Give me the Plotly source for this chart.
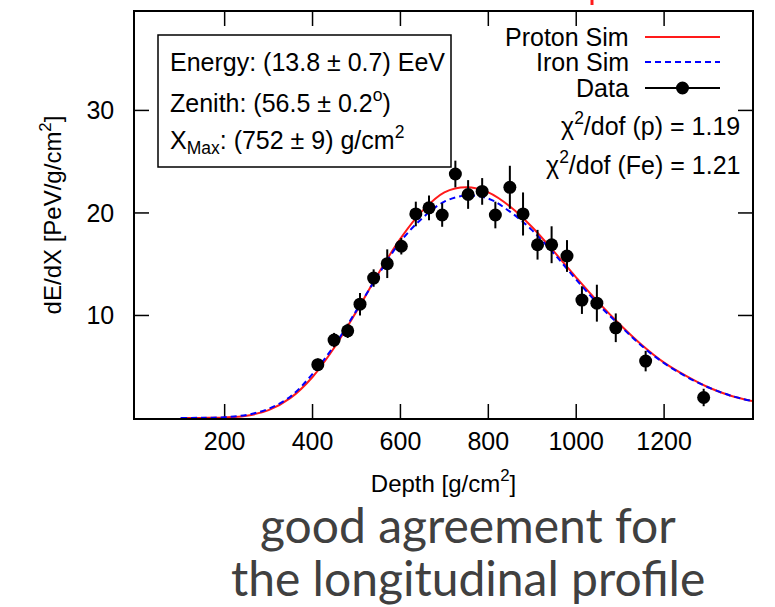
import plotly.graph_objects as go

# ---------------- data ----------------
depth = [412, 449, 480, 508, 539, 570, 602, 635, 665, 695, 725, 754, 786, 816, 849,
         879, 912, 944, 979, 1013, 1047, 1090, 1158, 1290]
dedx = [5.2, 7.6, 8.5, 11.1, 13.65, 15.05, 16.75, 19.9, 20.5, 19.8, 23.8, 21.8, 22.1,
        19.8, 22.5, 19.9, 16.9, 16.9, 15.8, 11.5, 11.2, 8.8, 5.55, 2.0]
dedx_err = [0.6, 0.7, 0.7, 1.1, 0.85, 1.4, 0.8, 1.2, 1.2, 1.15, 1.3, 1.4, 1.3, 1.3, 2.1,
            2.1, 1.45, 1.8, 1.55, 1.35, 1.8, 1.4, 1.0, 0.85]

sim_depth = [100, 150, 200, 250, 300, 350, 400, 450, 500, 550, 600, 650, 700, 750, 800,
             850, 900, 950, 1000, 1050, 1100, 1150, 1200, 1250, 1300, 1350, 1400]
proton_sim = [0.0, 0.01, 0.05, 0.22, 0.77, 1.96, 4.0, 6.9, 10.4, 14.1, 17.5, 20.2, 22.0,
              22.5, 22.0, 20.6, 18.6, 16.2, 13.7, 11.3, 9.1, 7.1, 5.4, 4.1, 3.0, 2.2, 1.65]
iron_sim = [0.0, 0.02, 0.08, 0.3, 0.9, 2.1, 4.3, 7.1, 10.5, 14.0, 17.2, 19.5, 21.1,
            21.7, 21.4, 20.1, 18.3, 16.0, 13.5, 11.1, 9.0, 7.0, 5.35, 4.05, 3.0, 2.2, 1.65]

x_ticks = [200, 400, 600, 800, 1000, 1200]
y_ticks = [10, 20, 30]
x_range = [-4, 1400]
y_range = [0, 39.6]

info_lines = ["Energy: (13.8 ± 0.7) EeV",
              "Zenith: (56.5 ± 0.2<sup>o</sup>)",
              "X<sub>Max</sub>: (752 ± 9) g/cm<sup>2</sup>"]
legend_labels = ["Proton Sim", "Iron Sim", "Data"]
chi2_lines = ["χ<sup>2</sup>/dof (p) = 1.19", "χ<sup>2</sup>/dof (Fe) = 1.21"]
caption = ["good agreement for", "the longitudinal profile"]

# ---------------- layout geometry (pixels) ----------------
WIDTH, HEIGHT = 775, 607
L, R, T, B = 135, 752, 12, 418
PW, PH = R - L, B - T
TICK_PX = 14


def px(x):
    return (x - L) / PW


def py(y):
    return (B - y) / PH


FONT = "Liberation Sans, Arial, Helvetica, sans-serif"
RED = "#ff1a1a"
BLUE = "#0000ff"
FS = 25

# inward-pointing frame ticks (gnuplot style), built from the tick lists and axis ranges
dy = (y_range[1] - y_range[0]) * TICK_PX / PH
dx = (x_range[1] - x_range[0]) * TICK_PX / PW
tick_xs, tick_ys = [], []
for t in x_ticks:
    tick_xs += [t, t, None, t, t, None]
    tick_ys += [y_range[0], y_range[0] + dy, None, y_range[1], y_range[1] - dy, None]
for t in y_ticks:
    tick_xs += [x_range[0], x_range[0] + dx, None, x_range[1], x_range[1] - dx, None]
    tick_ys += [t, t, None, t, t, None]

fig = go.Figure()
fig.add_trace(go.Scatter(x=tick_xs, y=tick_ys, mode="lines", name="ticks",
                         line=dict(color="black", width=1.5), hoverinfo="skip",
                         showlegend=False, connectgaps=False))
fig.add_trace(go.Scatter(x=sim_depth, y=proton_sim, mode="lines", name="Proton Sim",
                         line=dict(color=RED, width=2, shape="spline"), showlegend=False))
fig.add_trace(go.Scatter(x=sim_depth, y=iron_sim, mode="lines", name="Iron Sim",
                         line=dict(color=BLUE, width=2, dash="6px,4px", shape="spline"),
                         showlegend=False))
fig.add_trace(go.Scatter(x=depth, y=dedx, mode="markers", name="Data",
                         marker=dict(color="black", size=13),
                         error_y=dict(type="data", array=dedx_err, color="black",
                                      thickness=2, width=0),
                         showlegend=False))

shapes = []
annotations = []

# info box
shapes.append(dict(type="rect", xref="paper", yref="paper", x0=px(158), x1=px(451),
                   y0=py(35), y1=py(167), line=dict(color="black", width=1.5),
                   fillcolor="rgba(0,0,0,0)"))
for i, t in enumerate(info_lines):
    annotations.append(dict(xref="paper", yref="paper", x=px(168), y=py([62, 101, 140][i]),
                            text=t, showarrow=False, xanchor="left", yanchor="middle",
                            font=dict(family=FONT, size=FS, color="black")))

# legend (gnuplot style: label, then sample on its right)
leg_y = [37, 62, 88]
for i, t in enumerate(legend_labels):
    annotations.append(dict(xref="paper", yref="paper", x=px(631), y=py(leg_y[i]),
                            text=t, showarrow=False, xanchor="right", yanchor="middle",
                            font=dict(family=FONT, size=FS, color="black")))
shapes.append(dict(type="line", xref="paper", yref="paper", x0=px(645), x1=px(720),
                   y0=py(leg_y[0]), y1=py(leg_y[0]), line=dict(color=RED, width=2)))
shapes.append(dict(type="line", xref="paper", yref="paper", x0=px(645), x1=px(720),
                   y0=py(leg_y[1]), y1=py(leg_y[1]),
                   line=dict(color=BLUE, width=2, dash="6px,4px")))
shapes.append(dict(type="line", xref="paper", yref="paper", x0=px(645), x1=px(720),
                   y0=py(leg_y[2]), y1=py(leg_y[2]), line=dict(color="black", width=2)))
shapes.append(dict(type="circle", xref="paper", yref="paper", x0=px(676), x1=px(689),
                   y0=py(leg_y[2] - 6.5), y1=py(leg_y[2] + 6.5),
                   fillcolor="black", line=dict(color="black", width=0)))

for i, t in enumerate(chi2_lines):
    annotations.append(dict(xref="paper", yref="paper", x=px(742), y=py([124, 163][i]),
                            text=t, showarrow=False, xanchor="right", yanchor="middle",
                            font=dict(family=FONT, size=FS, color="black")))

# cut-off red title fragment at the very top
shapes.append(dict(type="line", xref="paper", yref="paper", x0=px(592), x1=px(592),
                   y0=py(0), y1=py(5), line=dict(color=RED, width=3)))

# caption
for i, t in enumerate(caption):
    annotations.append(dict(xref="paper", yref="paper", x=px(468), y=py([524, 577][i]),
                            text=t, showarrow=False, xanchor="center", yanchor="middle",
                            font=dict(family="Lato, Open Sans, sans-serif", size=48,
                                      color="#404040")))

axis_common = dict(showline=True, linecolor="black", linewidth=1.5, mirror=True,
                   ticks="", showgrid=False, zeroline=False, automargin=False,
                   tickmode="array",
                   tickfont=dict(family=FONT, size=FS, color="black"))

fig.update_layout(
    width=WIDTH, height=HEIGHT,
    margin=dict(l=L, r=WIDTH - R, t=T, b=HEIGHT - B),
    paper_bgcolor="white", plot_bgcolor="white",
    xaxis=dict(range=x_range, tickvals=x_ticks,
               title=dict(text="Depth [g/cm<sup>2</sup>]", standoff=21,
                          font=dict(family=FONT, size=24, color="black")),
               **axis_common),
    yaxis=dict(range=y_range, tickvals=y_ticks, ticklabelstandoff=14,
               title=dict(text="dE/dX [PeV/g/cm<sup>2</sup>]", standoff=18,
                          font=dict(family=FONT, size=24, color="black")),
               **axis_common),
    shapes=shapes, annotations=annotations,
)

fig.write_html("out.html")
